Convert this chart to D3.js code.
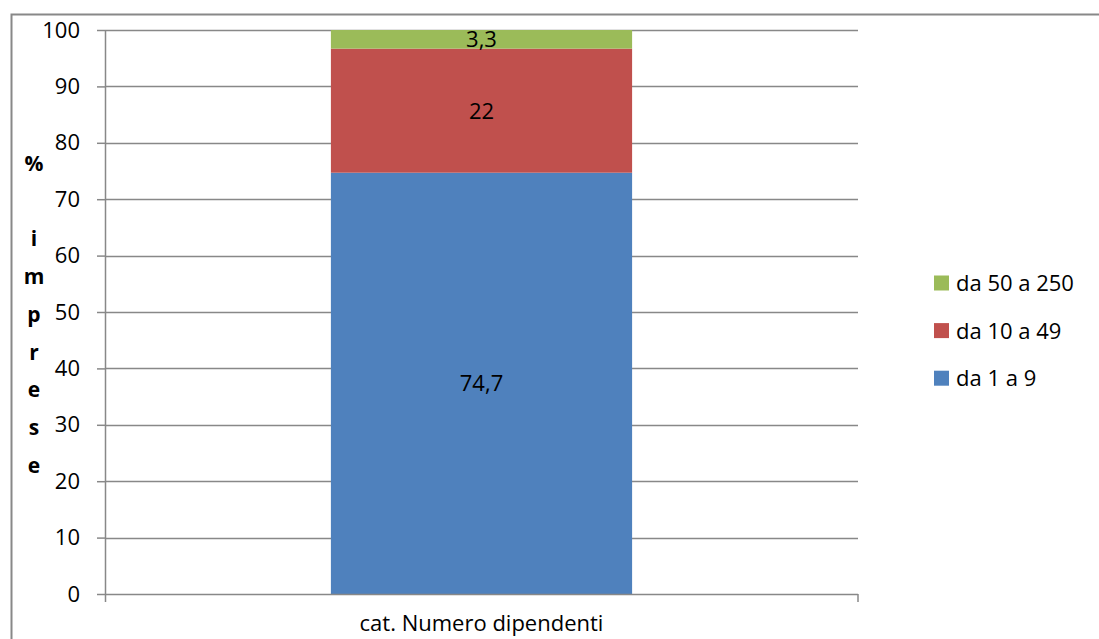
<!DOCTYPE html>
<html>
<head>
<meta charset="utf-8">
<script src="https://cdn.jsdelivr.net/npm/d3@7"></script>
<style>
  body { margin: 0; background: #fff; }
  svg { font-family: "Open Sans", sans-serif; }
</style>
</head>
<body>
<svg width="1099" height="639"></svg>
<script>
// Data
const categories = ["cat. Numero dipendenti"];
const seriesNames = ["da 1 a 9", "da 10 a 49", "da 50 a 250"];
const seriesValues = [[74.7], [22], [3.3]];
const seriesLabels = [["74,7"], ["22"], ["3,3"]];
const seriesColors = ["#4F81BD", "#C0504D", "#9BBB59"];
const yTicks = [0, 10, 20, 30, 40, 50, 60, 70, 80, 90, 100];
const yTitle = "% imprese";

const svg = d3.select("svg");
const margin = { left: 105, right: 858, top: 30, bottom: 594 };

// Outer chart border
svg.append("rect")
  .attr("x", 11.5).attr("y", 14.5)
  .attr("width", 1200).attr("height", 800)
  .attr("fill", "none").attr("stroke", "#888").attr("stroke-width", 2);

const x = d3.scaleBand()
  .domain(categories)
  .range([margin.left, margin.right])
  .paddingInner(0)
  .paddingOuter(0.75);

const y = d3.scaleLinear().domain([0, 100]).range([margin.bottom, margin.top]);

// Gridlines
svg.append("g")
  .selectAll("line")
  .data(yTicks.filter(d => d > 0))
  .enter().append("line")
  .attr("x1", margin.left).attr("x2", margin.right)
  .attr("y1", d => Math.round(y(d)) + 0.5).attr("y2", d => Math.round(y(d)) + 0.5)
  .attr("stroke", "#888").attr("stroke-width", 1.5);

// Stacked bars
const stackData = categories.map((c, i) => {
  const row = { cat: c };
  seriesNames.forEach((s, j) => row[s] = seriesValues[j][i]);
  return row;
});
const stacked = d3.stack().keys(seriesNames)(stackData);

const layers = svg.append("g")
  .selectAll("g")
  .data(stacked)
  .enter().append("g")
  .attr("fill", (d, i) => seriesColors[i]);

layers.selectAll("rect")
  .data(d => d)
  .enter().append("rect")
  .attr("x", d => x(d.data.cat))
  .attr("width", x.bandwidth())
  .attr("y", d => y(d[1]))
  .attr("height", d => y(d[0]) - y(d[1]));

// Data labels
stacked.forEach((layer, j) => {
  layer.forEach((d, i) => {
    svg.append("text")
      .attr("x", x(d.data.cat) + x.bandwidth() / 2)
      .attr("y", y((d[0] + d[1]) / 2))
      .attr("dy", "0.36em")
      .attr("text-anchor", "middle")
      .attr("font-size", 22)
      .attr("fill", "#000")
      .text(seriesLabels[j][i]);
  });
});

// Y axis
const yAxis = svg.append("g")
  .attr("transform", `translate(${margin.left},0)`)
  .call(d3.axisLeft(y).tickValues(yTicks).tickSize(8).tickPadding(17));
yAxis.select(".domain").remove();
yAxis.selectAll(".tick line").attr("stroke", "#888").attr("stroke-width", 1.5);
yAxis.selectAll(".tick text").attr("font-size", 22).attr("font-family", "Open Sans").attr("fill", "#000");
svg.append("line")
  .attr("x1", margin.left + 0.5).attr("x2", margin.left + 0.5)
  .attr("y1", margin.top).attr("y2", margin.bottom + 8)
  .attr("stroke", "#888").attr("stroke-width", 1.5);

// X axis
svg.append("line")
  .attr("x1", margin.left).attr("x2", margin.right)
  .attr("y1", margin.bottom + 0.5).attr("y2", margin.bottom + 0.5)
  .attr("stroke", "#888").attr("stroke-width", 1.5);
svg.append("line")
  .attr("x1", margin.right).attr("x2", margin.right)
  .attr("y1", margin.bottom).attr("y2", margin.bottom + 8)
  .attr("stroke", "#888").attr("stroke-width", 1.5);
svg.append("text")
  .attr("x", x(categories[0]) + x.bandwidth() / 2)
  .attr("y", 631)
  .attr("text-anchor", "middle")
  .attr("font-size", 22)
  .text(categories[0]);

// Y title, stacked characters
svg.append("g")
  .selectAll("text")
  .data(yTitle.split(""))
  .enter().append("text")
  .attr("x", 34)
  .attr("y", (d, i) => 171 + i * 37.7)
  .attr("text-anchor", "middle")
  .attr("font-size", 21)
  .attr("font-weight", "bold")
  .text(d => d);

// Legend (reversed order)
const legend = svg.append("g")
  .selectAll("g")
  .data(seriesNames.map((s, i) => ({ s, c: seriesColors[i] })).reverse())
  .enter().append("g")
  .attr("transform", (d, i) => `translate(934, ${283 + i * 47.6})`);
legend.append("rect")
  .attr("x", 0).attr("y", -7.5)
  .attr("width", 15).attr("height", 15)
  .attr("fill", d => d.c);
legend.append("text")
  .attr("x", 22).attr("dy", "0.36em")
  .attr("font-size", 22)
  .text(d => d.s);
</script>
</body>
</html>
